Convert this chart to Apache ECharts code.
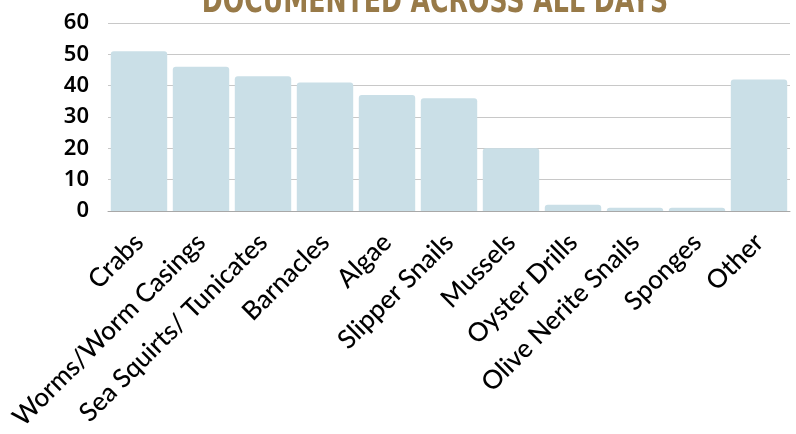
<!DOCTYPE html>
<html><head><meta charset="utf-8">
<script src="https://cdn.jsdelivr.net/npm/echarts@6/dist/echarts.min.js"></script>
<style>html,body{margin:0;padding:0;background:#fff}#c{width:796px;height:434px}</style>
</head><body><div id="c"></div>
<script>
const titleText = "DOCUMENTED ACROSS ALL DAYS";
const categories = ["Crabs","Worms/Worm Casings","Sea Squirts/ Tunicates","Barnacles","Algae","Slipper Snails","Mussels","Oyster Drills","Olive Nerite Snails","Sponges","Other"];
const counts = [51,46,43,41,37,36,20,2,1,1,42];
const yTicks = [0,10,20,30,40,50,60];

const chart = echarts.init(document.getElementById('c'), null, {renderer:'canvas'});
chart.setOption({
  animation:false,
  backgroundColor:'#fff',
  graphic:[{
    type:'text', x:435, y:21, scaleX:0.70, z:10,
    style:{text:titleText, textAlign:'center', textVerticalAlign:'bottom', verticalAlign:'bottom',
      font:'bold 36px "DejaVu Sans", sans-serif', fill:'#987a48'}
  }],
  grid:{left:108,right:6,top:23,bottom:223,containLabel:false},
  xAxis:{
    type:'category', data:categories,
    axisLine:{show:true,lineStyle:{color:'#a8a8a8',width:1}},
    axisTick:{show:false},
    axisLabel:{rotate:45,interval:0,margin:27,color:'#000',fontFamily:'Lato, sans-serif',fontSize:26,fontWeight:500}
  },
  yAxis:{
    type:'value', min:yTicks[0], max:yTicks[yTicks.length-1], interval:10,
    axisLine:{show:false}, axisTick:{show:false},
    splitLine:{lineStyle:{color:'#c8c8c8',width:1}},
    axisLabel:{margin:19,color:'#000',fontFamily:'"Noto Sans", sans-serif',fontSize:22,fontWeight:600}
  },
  series:[{
    type:'bar', data:counts, barCategoryGap:'9%',
    itemStyle:{color:'#cadfe7',borderRadius:[3,3,0,0]}
  }]
});
</script></body></html>
